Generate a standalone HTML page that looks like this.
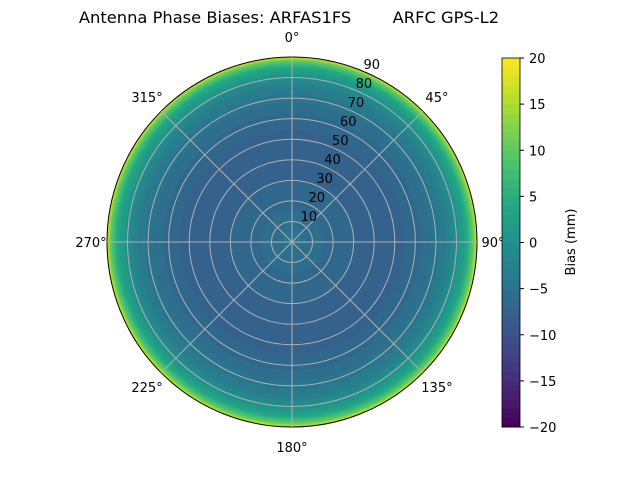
<!DOCTYPE html>
<html><head><meta charset="utf-8"><style>
body{margin:0;background:#fff;font-family:"DejaVu Sans","Liberation Sans",sans-serif}
svg{display:block}
</style></head><body>
<svg id="c" width="640" height="480" xmlns="http://www.w3.org/2000/svg">
<text x="289" y="23" font-size="16.3" text-anchor="middle" xml:space="preserve">Antenna Phase Biases: ARFAS1FS        ARFC GPS-L2</text>
<g id="field"></g><g id="grid"></g><g id="labels" font-size="13"></g><g id="cbar" font-size="13"></g>
<text x="575" y="242" font-size="13" text-anchor="middle" transform="rotate(-90 575 242)">Bias (mm)</text>
</svg>
<script>
const zenith=[0,10,20,30,40,50,60,70,75,80,85,88,90];
const bias=[-4.5,-5.5,-6.5,-7,-7.5,-7.5,-6.5,-4.5,-3,-0.5,4,10,17];
const ringTicks=[10,20,30,40,50,60,70,80,90];
const angleTicks=[0,45,90,135,180,225,270,315];
const cbTicks=[-20,-15,-10,-5,0,5,10,15,20];
const cx=292,cy=242,R=185,vmin=-20,vmax=20;
const NS="http://www.w3.org/2000/svg";
const stops=["#440154","#482475","#414487","#355f8d","#2a788e","#21918c","#22a884","#44bf70","#7ad151","#bddf26","#fde725"];
function hex(h){return [1,3,5].map(i=>parseInt(h.substr(i,2),16));}
function viridis(t){t=Math.max(0,Math.min(1,t));const f=t*10,i=Math.min(9,Math.floor(f)),u=f-i;const a=hex(stops[i]),b=hex(stops[i+1]);return `rgb(${a.map((v,k)=>Math.round(v+(b[k]-v)*u)).join(",")})`;}
function rScale(z){return z/90*R;}
function cScale(v){const lv=Math.floor((v-vmin)/1)*1+vmin+0.5;return viridis((lv-vmin)/(vmax-vmin));}
function valAt(z){for(let i=0;i<zenith.length-1;i++){if(z<=zenith[i+1]){const u=(z-zenith[i])/(zenith[i+1]-zenith[i]);return bias[i]+(bias[i+1]-bias[i])*u;}}return bias[bias.length-1];}
function mk(tag,at,p){const e=document.createElementNS(NS,tag);for(const k in at)e.setAttribute(k,at[k]);p.appendChild(e);return e;}
const field=document.getElementById('field');
for(let z=90;z>0;z-=0.5){const c=mk('circle',{cx:cx,cy:cy,r:rScale(z),fill:cScale(valAt(z-0.25))},field);

}
const grid=document.getElementById('grid');
ringTicks.forEach(z=>{const c=mk('circle',{cx:cx,cy:cy,r:rScale(z),fill:'none',stroke:z==90?'#000':'#b0b0b0','stroke-width':1},grid);

});
const lab=document.getElementById('labels');
angleTicks.forEach(a=>{const rad=a*Math.PI/180;
const l=mk('line',{x1:cx,y1:cy,x2:cx+R*Math.sin(rad),y2:cy-R*Math.cos(rad),stroke:'#b0b0b0','stroke-width':1},grid);


const s=Math.sin(rad),rr=(a%180==90)?201:205;
const t=mk('text',{x:cx+rr*s,y:cy-rr*Math.cos(rad)+5,'text-anchor':'middle'},lab);t.textContent=a+'°';

});
ringTicks.forEach(z=>{const rad=22.5*Math.PI/180,r=rScale(z);const t=mk('text',{x:cx+r*Math.sin(rad)+9,y:cy-r*Math.cos(rad)-2,'text-anchor':'middle'},lab);t.textContent=z;

});
const cb=document.getElementById('cbar');const X=502,W=18,T=58,B=427;
for(let v=vmin;v<vmax;v+=1){const y1=B-(v+1-vmin)/(vmax-vmin)*(B-T);const r=mk('rect',{x:X,y:y1,width:W,height:(B-T)/40+0.5,fill:viridis((v+0.5-vmin)/(vmax-vmin))},cb);

}
mk('rect',{x:X,y:T,width:W,height:B-T,fill:'none',stroke:'#000','stroke-width':0.8},cb);
cbTicks.forEach(v=>{const y=B-(v-vmin)/(vmax-vmin)*(B-T);mk('line',{x1:X+W,x2:X+W+4,y1:y,y2:y,stroke:'#000'},cb);
const t=mk('text',{x:X+W+9,y:y+5},cb);t.textContent=v<0?'\u2212'+(-v):v;

});
</script>
</body></html>
